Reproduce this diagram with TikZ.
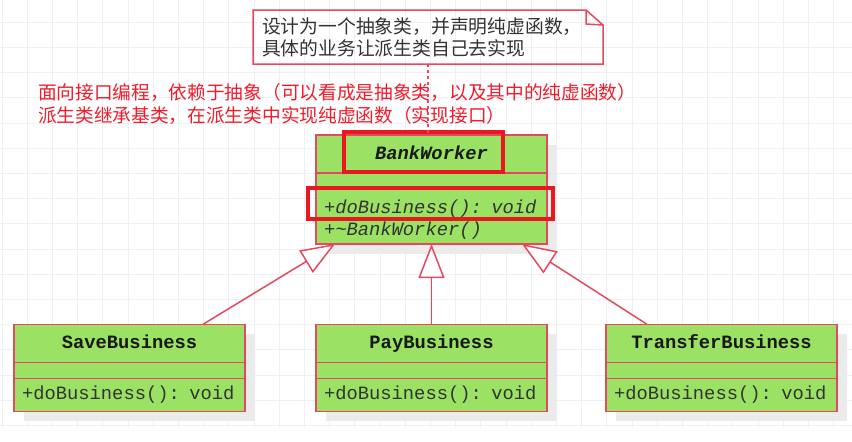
\documentclass[tikz,border=0pt]{standalone}
\usepackage{fontspec}
\usetikzlibrary{arrows.meta,positioning,shadows}
\setmainfont{Liberation Sans}
\newfontfamily\umlmono{Liberation Mono}
\newfontfamily\cjkfont{Noto Sans CJK SC}
\definecolor{umledge}{RGB}{230,72,96}
\definecolor{umlgreen}{RGB}{154,225,100}
\definecolor{hlred}{RGB}{232,24,32}
\definecolor{hinttext}{RGB}{238,28,44}

\begin{document}
\begin{tikzpicture}[
        x=1pt, y=-1pt,
        every node/.style={outer sep=0pt, inner sep=0pt},
        gridline/.style={draw=black!6, line width=0.9pt},
        umlbox/.style={draw=umledge, fill=umlgreen, line width=1.5pt, minimum width=231pt,
            drop shadow={shadow xshift=10pt, shadow yshift=-10pt, fill=black!8, opacity=1}},
        classhead/.style={umlbox, minimum height=38pt, text height=14pt, text depth=4pt, text=black!90,
            font=\umlmono\bfseries\fontsize{18.8}{21}\selectfont},
        classattr/.style={umlbox, minimum height=16pt},
        classmeth/.style={umlbox, minimum height=33pt, text width=215pt, align=left, inner xsep=8pt,
            text=black!80, font=\umlmono\fontsize{18.8}{21}\selectfont},
        noteedge/.style={draw=umledge, line width=1.5pt, line join=miter},
        notetext/.style={minimum width=350pt, minimum height=54pt, text width=332pt, align=left,
            text=black!80, font=\cjkfont\fontsize{18.8}{22}\selectfont},
        hinttext/.style={align=left, text=hinttext, font=\cjkfont\fontsize{18.7}{23}\selectfont},
        highlight/.style={draw=hlred, line width=4pt},
        inherit/.style={draw=umledge, line width=1.5pt, -{Triangle[length=34pt, width=26pt, fill=white]}}
    ]

    \useasboundingbox (0,0) rectangle (852,442);
    \fill[white] (0,0) rectangle (852,442);
    \foreach \gx in {2,27.2,...,852} \draw[gridline] (\gx,0) -- (\gx,428);
    \foreach \gy in {22.3,47.5,...,428} \draw[gridline] (0,\gy) -- (852,\gy);

    % Nodes
    \node[notetext] (note) at (428,37) {设计为一个抽象类，并声明纯虚函数，\\具体的业务让派生类自己去实现};
    \node[hinttext, anchor=west] (hint) at (38,103.5) {面向接口编程，依赖于抽象（可以看成是抽象类，以及其中的纯虚函数）\\
        派生类继承基类，在派生类中实现纯虚函数（实现接口）};

    \node[classhead, anchor=north] (bw) at (431.5,135) {\itshape BankWorker};
    \node[classattr, below=0pt of bw] (bwattr) {};
    \node[classmeth, below=0pt of bwattr, minimum height=55pt, font=\umlmono\fontsize{18.8}{22}\selectfont]
        (bwmeth) {\itshape\rule{0pt}{20pt}+doBusiness(): void\\ +\textasciitilde BankWorker()};

    \node[classhead, anchor=north] (save) at (129.5,324.3) {SaveBusiness};
    \node[classattr, below=0pt of save] (saveattr) {};
    \node[classmeth, below=0pt of saveattr] (savemeth) {+doBusiness(): void};

    \node[classhead, anchor=north] (pay) at (431.5,324.3) {PayBusiness};
    \node[classattr, below=0pt of pay] (payattr) {};
    \node[classmeth, below=0pt of payattr] (paymeth) {+doBusiness(): void};

    \node[classhead, anchor=north] (transfer) at (721.5,324.3) {TransferBusiness};
    \node[classattr, below=0pt of transfer] (transferattr) {};
    \node[classmeth, below=0pt of transferattr] (transfermeth) {+doBusiness(): void};

    % note outline with folded corner
    \draw[noteedge] (note.north west) -- ([xshift=-17pt]note.north east) -- ([yshift=-15pt]note.north east)
        -- (note.south east) -- (note.south west) -- cycle;
    \draw[noteedge] ([xshift=-17pt]note.north east) -- ([xshift=-17pt,yshift=-14pt]note.north east)
        -- ([yshift=-15pt]note.north east);

    % marks
    \draw[highlight] ([xshift=28pt,yshift=3pt]bw.north west) rectangle ([xshift=-44pt,yshift=1pt]bw.south east);
    \draw[highlight] ([xshift=-8pt,yshift=1pt]bwmeth.north west) rectangle ([xshift=6pt,yshift=-30pt]bwmeth.north east);

    % Edges
    \draw[umledge, line width=1.5pt, dash pattern=on 3pt off 3pt] (note.south) -- (note.south |- bw.north);
    \draw[inherit] ([xshift=-42pt]save.north east) -- ([xshift=19pt]bwmeth.south west);
    \draw[inherit] (pay.north) -- (bwmeth.south);
    \draw[inherit] ([xshift=41pt]transfer.north west) -- ([xshift=-25pt]bwmeth.south east);

\end{tikzpicture}
\end{document}
